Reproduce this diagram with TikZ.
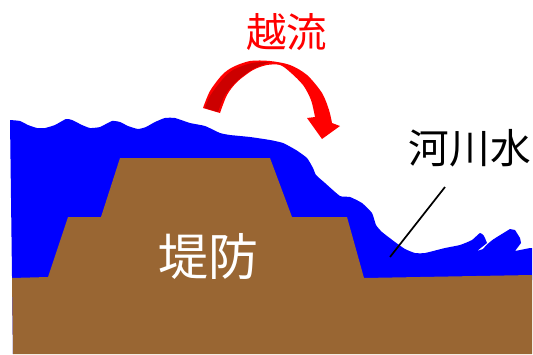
\documentclass[tikz,border=0pt]{standalone}
\usepackage{fontspec}
\newfontfamily\cjkfont{Noto Sans CJK JP}
\definecolor{levee}{HTML}{996633}
\definecolor{river}{HTML}{0000FF}
\definecolor{flowdark}{HTML}{CC0000}
\tikzset{
  water/.style={fill=river,draw=none},
  ground/.style={fill=levee,draw=none},
  flow/.style={fill=red,draw=none},
  flowshade/.style={fill=flowdark,draw=none},
  caption/.style={inner sep=0pt,font=\cjkfont},
  leader/.style={draw=black,line width=1.7pt}
}
\begin{document}
\begin{tikzpicture}[x=1pt,y=-1pt]
\useasboundingbox (0,0) rectangle (533,354);
% river water surface, spilling over the crest
\path[water] plot[smooth,tension=0.3] coordinates {
  (10,120) (20,121) (28,125) (37,128) (45,128) (55,125) (66,119) (72,120)
  (82,125) (90,128) (100,127) (112,121) (120,122) (128,126) (138,129) (146,127)
  (155,122) (165,118) (175,118) (190,123) (205,126) (220,133) (230,135) (250,137)
  (270,140) (283,143) (296,150) (307,158) (313,168) (316,175) (325,183) (340,196)
  (350,197) (362,203) (372,213) (376,225) (382,232) (395,242) (405,249) (415,253)
  (425,253) (445,248) (460,245) (472,240) (480,233) (484,236) (487,243)}
  -- (477,251) -- (483,249)
  .. controls (488,243) and (492,240) .. (497,237)
  -- (510,229) -- (515,230) -- (520,238) -- (521,243) -- (515,251) -- (530,248) -- (532,248)
  -- (532,280) -- (13,354) -- cycle;
% levee and river bed
\path[ground] (12,278) -- (48,277) -- (68,217) -- (101,217) -- (120,158) -- (270,158)
  -- (292,217) -- (347,217) -- (364,278) -- (532,275) -- (532,354) -- (13,354) -- cycle;
% overflow arrow
\path[flow] plot[smooth,tension=0.5] coordinates {
  (203,108) (210,91) (222,75) (233,67) (250,61) (270,61) (290,65) (307,75)
  (322,93) (329,110) (332,123)}
  -- (340,126) -- (322,139) -- (307,118) -- (315,117)
  -- plot[smooth,tension=0.5] coordinates {
  (315,117) (311,100) (303,85) (290,72) (280,65) (267,65) (253,70) (237,82) (227,95) (220,113)}
  -- cycle;
\path[flowshade] plot[smooth,tension=0.5] coordinates {
  (205,108) (210,96) (222,80) (233,70) (252,63) (270,62)}
  -- plot[smooth,tension=0.5] coordinates {
  (270,62) (253,69) (237,81) (225,95) (218,112)}
  -- cycle;
% labels
\node[caption,text=red,font=\cjkfont\fontsize{40.5}{40.5}\selectfont] (overflow) at (286.5,32) {越流};
\node[caption,text=black,font=\cjkfont\fontsize{40.7}{40.7}\selectfont] (riverwater) at (470,148) {河川水};
\node[caption,text=white,font=\cjkfont\fontsize{50}{50}\selectfont] (levee) at (208.5,256) {堤防};
% leader from the river label into the water
\coordinate (leadertop) at (445,187);
\coordinate (leaderend) at (390,257);
\draw[leader] (leadertop) -- (leaderend);
\end{tikzpicture}
\end{document}
